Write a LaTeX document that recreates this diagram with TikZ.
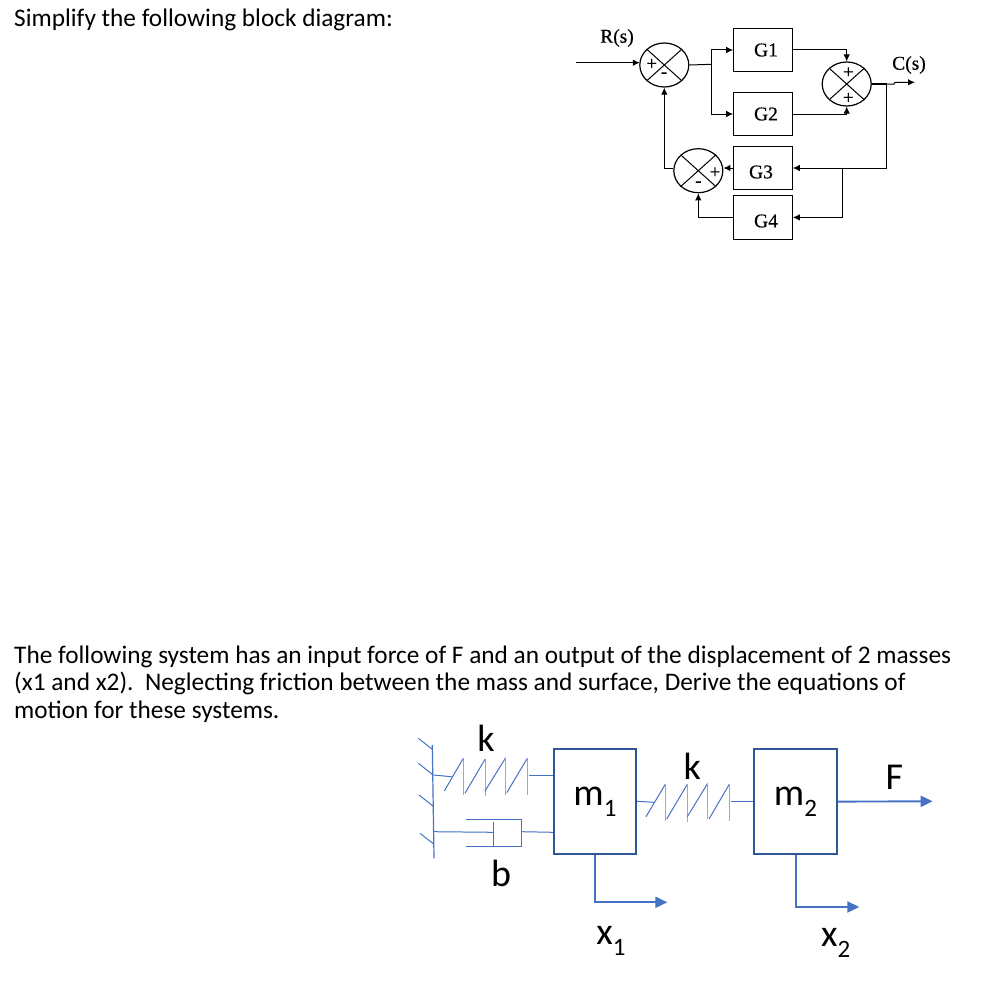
\documentclass[tikz,border=0pt]{standalone}
\usepackage{fontspec}
\setmainfont{Carlito}
\newfontfamily\labelserif[FakeBold=0.4]{Liberation Serif}
\usetikzlibrary{arrows.meta,shapes.geometric,calc}
\definecolor{bluearrow}{HTML}{4472C4}
\definecolor{boxblue}{HTML}{2F5597}
\definecolor{lightblue}{HTML}{8FAADC}
\newcommand{\lowered}[1]{\raisebox{-0.3em}{\fontsize{25}{28}\selectfont #1}}
\tikzset{
  x=1pt,y=-1pt,
  gainbox/.style={draw=black,line width=1pt,minimum width=58.6pt,minimum height=43.4pt,inner sep=0pt},
  gaintext/.style={inner sep=0pt,font=\labelserif\fontsize{19.5}{22}\selectfont},
  sumcircle/.style={ellipse,draw=black,line width=1.2pt,minimum width=49pt,minimum height=44pt,inner sep=0pt},
  sumcross/.style={line width=1pt,black},
  signfont/.style={inner sep=0pt,font=\labelserif\fontsize{19}{20}\selectfont},
  wire/.style={line width=1pt,black},
  wirearrow/.style={wire,-{Latex[length=7pt,width=6.5pt]}},
  sigfont/.style={inner sep=0pt,font=\labelserif\fontsize{19.5}{22}\selectfont},
  bodytext/.style={inner sep=0pt,anchor=base west,font=\fontsize{25.3}{27.6}\selectfont,align=left},
  massbox/.style={draw=boxblue,line width=1.8pt,fill=white,minimum width=82.3pt,minimum height=104.7pt,inner sep=0pt,font=\fontsize{38}{40}\selectfont},
  mechlabel/.style={inner sep=0pt,font=\fontsize{38}{40}\selectfont},
  thinblue/.style={line width=1pt,bluearrow},
  paleblue/.style={line width=1.5pt,lightblue},
  bluearr/.style={line width=1.9pt,bluearrow,-{Triangle[length=12pt,width=11pt]}},
}
\begin{document}
\begin{tikzpicture}
\useasboundingbox (0,0) rectangle (984,990);
% --- text
\node[bodytext] (q1) at (14,27) {Simplify the following block diagram:};
\node[bodytext,anchor=north west] (q2) at (14,645.5) {The following system has an input force of F and an output of the displacement of 2 masses\\(x1 and x2).\ \ Neglecting friction between the mass and surface, Derive the equations of\\motion for these systems.};
% --- block diagram
\node[gainbox] (g1) at (763,50) {};
\node[gainbox] (g2) at (763,114) {};
\node[gainbox] (g3) at (763,168) {};
\node[gainbox] (g4) at (763,217.4) {};
\node[gaintext] (g1t) at (766,50) {G1};
\node[gaintext] (g2t) at (766,114) {G2};
\node[gaintext] (g3t) at (761,172) {G3};
\node[gaintext] (g4t) at (766,221) {G4};
\node[sumcircle] (s1) at (664.3,65) {};
\node[sumcircle] (s2) at (846.7,84) {};
\node[sumcircle] (s3) at (698.3,170.7) {};
\foreach \s in {s1,s2,s3}{
  \draw[sumcross] (\s.north west) -- (\s.south east);
  \draw[sumcross] (\s.north east) -- (\s.south west);
}
\node[signfont] (p1) at (651.7,64.3) {+};
\node[signfont] (m1s) at (664,75) {-};
\node[signfont] (p2) at (848.3,72.7) {+};
\node[signfont] (p3) at (848.3,98.3) {+};
\node[signfont] (p4) at (715,172.7) {+};
\node[signfont] (m2s) at (698.3,184) {-};
\node[sigfont] (rs) at (617,38) {R(s)};
\node[sigfont] (cs) at (909,65) {C(s)};
\coordinate (rin) at (576,62.7);
\coordinate (branch) at (711.7,64.3);
\coordinate (cout) at (915,82.3);
\coordinate (tapa) at (886.7,84);
\coordinate (tapb) at (842.7,168.3);
\draw[wirearrow] (rin) -- (639.8,62.7);
\draw[wire] (s1.east) -- (branch);
\draw[wirearrow] (branch) |- (g1.west);
\draw[wirearrow] (branch) |- (g2.west);
\draw[wirearrow] (g1.east) -| (s2.north);
\draw[wirearrow] (g2.east) -| (s2.south);
\draw[line width=1.6pt] (s2.east) -- (tapa);
\draw[wirearrow] (tapa) -- (894,84) -- (895,82.3) -- (cout);
\draw[wirearrow] (tapa) |- (g3.east);
\draw[wirearrow] (tapb) |- (g4.east);
\draw[wirearrow] (g3.west) -- (s3.east |- g3.west);
\draw[wirearrow] (s3.west |- g3.west) -| (s1.south);
\draw[wirearrow] (g4.west) -| (s3.south);
% --- mechanical system
\node[massbox] (m1) at (595,801.6) {m\lowered{1}};
\node[massbox] (m2) at (795.5,801.6) {m\lowered{2}};
\node[mechlabel] (k1) at (486,738) {k};
\node[mechlabel] (k2) at (692.3,766.7) {k};
\node[mechlabel] (bl) at (501,873.3) {b};
\node[mechlabel] (fl) at (894.3,777) {F};
\node[mechlabel] (x1) at (611,941) {x\lowered{1}};
\node[mechlabel] (x2) at (835.7,943) {x\lowered{2}};
% wall
\coordinate (walltop) at (432.3,745);
\coordinate (wallbot) at (434,858.3);
\draw[thinblue,line width=1.2pt] (walltop) -- (wallbot);
\foreach \a/\b in {418.3/738.3,418.3/763.3,419/795,420/833.3}
  \draw[thinblue] (\a,\b) -- ++(14,11);
% spring 1
\draw[thinblue] (433.3,775) -- (451.7,776.7);
\draw[thinblue] (444.3,791) -- (463.3,758.3);
\draw[paleblue] (463.6,758.3) -- (463.6,795);
\draw[thinblue] (465,793.3) -- (485,759.3);
\draw[paleblue] (485.4,759.3) -- (485.4,796);
\draw[thinblue] (485,791) -- (505.7,757.7);
\draw[paleblue] (505.6,757.7) -- (505.6,795);
\draw[thinblue] (506.7,792.7) -- (527.3,758.3);
\draw[paleblue] (527.6,758.3) -- (527.6,795);
\draw[thinblue] (529.3,775.7) -- (m1.west |- 0,775.7);
% damper
\draw[thinblue] (434,831.7) -- (493.3,832.3);
\draw[thinblue] (465.7,819) -- (521.7,819) -- (521.7,846.7) -- (465.7,846.7);
\draw[thinblue,line width=1.2pt] (493.3,822.3) -- (493.3,846.7);
\draw[thinblue] (522.3,831.7) -- (m1.west |- 0,832.3);
% spring 2
\draw[thinblue] (m1.east |- 0,801.3) -- (654,802.3);
\draw[thinblue] (646,816.7) -- (665.3,784.3);
\draw[paleblue] (665.6,784.3) -- (665.6,820.7);
\draw[thinblue] (666.7,819) -- (687.3,784.3);
\draw[paleblue] (687.6,784.3) -- (687.6,821.7);
\draw[thinblue] (687.3,816.7) -- (707.7,783.3);
\draw[paleblue] (707.6,783.3) -- (707.6,819);
\draw[thinblue] (709,819) -- (729.3,784.3);
\draw[paleblue] (729.6,784.3) -- (729.6,820.7);
\draw[thinblue] (731,801.3) -- (m2.west |- 0,801.3);
% output arrows
\coordinate (f1) at (667.3,902.3);
\coordinate (f2) at (859.3,907);
\coordinate (ff) at (932.7,801.3);
\draw[bluearr] (m1.south -| 595,0) |- (f1);
\draw[bluearr] ([xshift=0.6pt]m2.south) |- (f2);
\draw[bluearr] (m2.east) -- (ff);
\end{tikzpicture}
\end{document}
